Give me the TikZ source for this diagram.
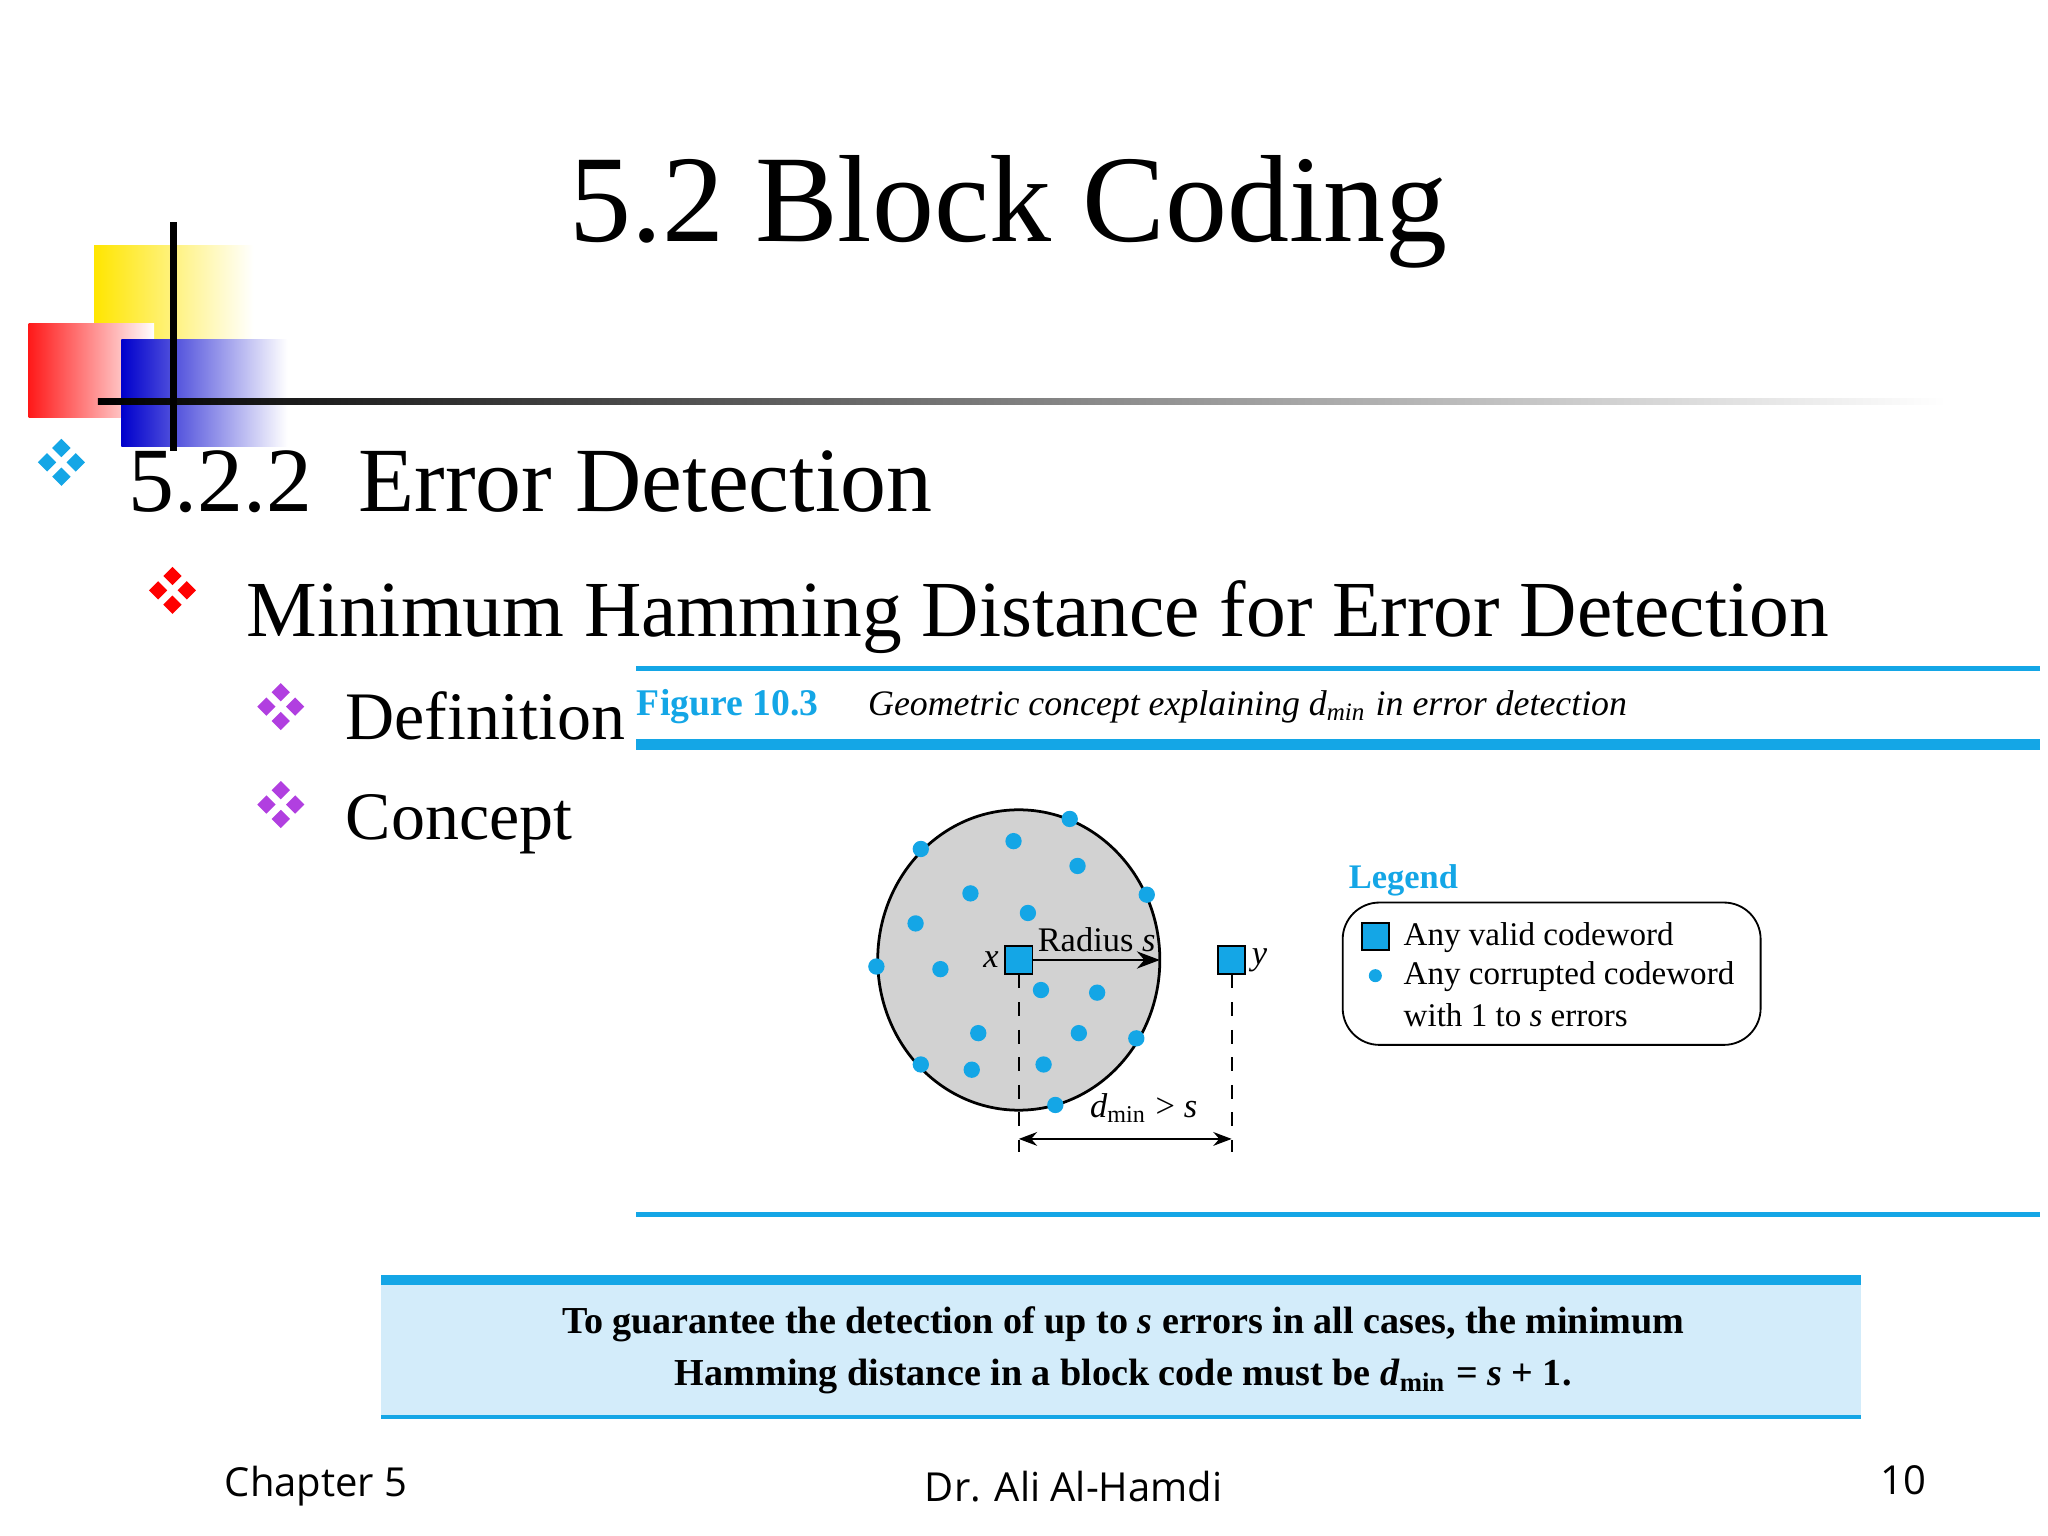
\documentclass[tikz,border=0pt]{standalone}
\usepackage{fontspec}
\setmainfont{Liberation Serif}
\newfontfamily\osans{Open Sans}
\usetikzlibrary{arrows.meta}
\definecolor{fblue}{HTML}{14A6E6}
\definecolor{lblue}{HTML}{D3ECFA}
\definecolor{purp}{HTML}{B13FE0}
\newcommand{\fs}[1]{\fontsize{#1}{#1}\selectfont}
\newcommand{\bul}[3]{%
 \foreach \dx/\dy in {0/-11,0/11,-11/0,11/0}{\fill[#1] (#2+\dx,#3+\dy) +(0,-7)--+(7,0)--+(0,7)--+(-7,0)--cycle;}}
\tikzset{dot/.style={circle,fill=fblue,inner sep=0pt,minimum size=0.125cm},
 sq/.style={draw=black,fill=fblue,minimum size=0.21cm,inner sep=0pt},
 tx/.style={anchor=base west,inner sep=0pt}}
\begin{document}
\begin{tikzpicture}[x=0.01cm,y=-0.01cm]
\useasboundingbox (0,0) rectangle (1568,1176);
% decoration
\shade[left color=yellow!80!orange,right color=white] (72,188) rectangle (194,300);
\shade[left color=red!90!white,right color=white] (22,248) rectangle (118,320);
\shade[left color=blue!80!black,right color=white] (93,260) rectangle (220,342);
\shade[left color=black,right color=white] (75,305) rectangle (1490,310);
\draw[line width=1.5pt] (133,170) -- (133,345);
\node (title) at (772,162) {\fs{27}{5.2 Block Coding}};
\bul{fblue}{47}{354}
\node[tx] (h1) at (98,392) {\fs{20}{5.2.2\ \ Error Detection}};
\bul{red}{132}{452}
\node[tx] (h2) at (188,487) {\fs{17.3}{Minimum Hamming Distance for Error Detection}};
\bul{purp}{215}{541}
\node[tx] (d1) at (264,566) {\fs{14.8}{Definition}};
\bul{purp}{215}{616}
\node[tx] (d2) at (264,643) {\fs{14.8}{Concept}};
% figure
\draw[fblue,line width=1pt] (487,512) -- (1562,512);
\draw[fblue,line width=2.2pt] (487,570) -- (1562,570);
\draw[fblue,line width=1pt] (487,930) -- (1562,930);
\node[tx,text=fblue] (fig) at (487,548) {\fs{8.2}\bfseries Figure 10.3};
\node[tx] (cap) at (664,548) {\fs{7.8}\itshape Geometric concept explaining d\textsubscript{min} in error detection};
\draw[fill=gray!35,line width=0.6pt] (780,735) ellipse [x radius=108,y radius=115];
\foreach \x/\y [count=\i] in {705/650,776/644,819/627,825/663,878/685,743/684,787/699,701/707,671/740,720/742,797/758,840/760,749/791,826/791,870/795,705/815,744/819,799/815,808/846}
 \node[dot] (p\i) at (\x,\y) {};
\node[sq] (x) at (780,735) {};
\node[sq] (y) at (943,735) {};
\node[anchor=east,font=\fs{7.5}\itshape,inner sep=1pt] at (x.west) {x};
\node[anchor=west,font=\fs{7.5}\itshape,inner sep=1pt] at (y.east) {y};
\coordinate (r) at (888,735);
\draw[-{Stealth[length=5pt]}] (x.east) -- (r) node[midway,above,font=\fs{7.5},inner sep=1.5pt] {Radius \textit{s}};
\coordinate (xb) at (780,882); \coordinate (yb) at (943,882);
\draw[dashed] (x.south) -- (xb);
\draw[dashed] (y.south) -- (yb);
\coordinate (xa) at (780,872); \coordinate (ya) at (943,872);
\draw[{Stealth[length=4pt]}-{Stealth[length=4pt]}] (xa) -- (ya) node[midway,above,font=\fs{7.5},xshift=4pt] {\textit{d}\textsubscript{min} > \textit{s}};
\node[tx,text=fblue] (leg) at (1032,680) {\fs{7.5}\bfseries Legend};
\draw[rounded corners=8pt] (1028,691) rectangle (1348,800);
\node[sq] (ls) at (1053,717) {};
\node[dot,minimum size=0.1cm] (ld) at (1053,747) {};
\node[tx] at (1074,724) {\fs{7.2}Any valid codeword};
\node[tx] at (1074,754) {\fs{7.2}Any corrupted codeword};
\node[tx] at (1074,786) {\fs{7.2}with 1 to \textit{s} errors};
% box
\fill[lblue] (292,980) rectangle (1425,1085);
\draw[fblue,line width=2pt] (292,980) -- (1425,980);
\draw[fblue,line width=0.8pt] (292,1085) -- (1425,1085);
\node[align=center,font=\fs{8.3}\bfseries] (rule) at (860,1034) {To guarantee the detection of up to \textit{s} errors in all cases, the minimum\\[3pt] Hamming distance in a block code must be \textit{d}\textsubscript{min} = \textit{s} + 1.};
% footer
\node (f1) at (242,1138) {\osans\fs{8.7}Chapter 5};
\node (f2) at (822,1138) {\osans\fs{8.7}Dr. Ali Al-Hamdi};
\node (f3) at (1457,1133) {\osans\fs{8.7}10};
\end{tikzpicture}
\end{document}
